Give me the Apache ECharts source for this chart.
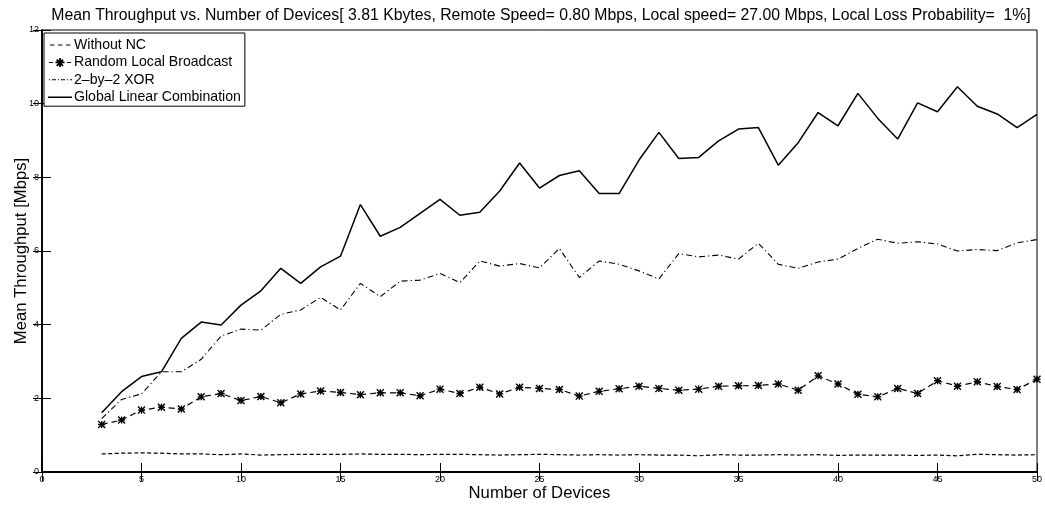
<!DOCTYPE html>
<html>
<head>
<meta charset="utf-8">
<script src="https://cdn.jsdelivr.net/npm/echarts@6/dist/echarts.min.js"></script>
<style>
  html, body { margin: 0; padding: 0; background: #fff; }
  #chart { width: 1045px; height: 505px; }
</style>
</head>
<body>
<div id="chart"></div>
<script>
// Number of devices on the x axis
const devices = [3, 4, 5, 6, 7, 8, 9, 10, 11, 12, 13, 14, 15, 16, 17, 18, 19, 20, 21, 22, 23, 24, 25, 26,
  27, 28, 29, 30, 31, 32, 33, 34, 35, 36, 37, 38, 39, 40, 41, 42, 43, 44, 45, 46, 47, 48, 49, 50];

// Mean throughput [Mbps] for each scheme
const withoutNC = [0.49, 0.51, 0.52, 0.51, 0.49, 0.49, 0.47, 0.49, 0.46, 0.47, 0.48, 0.48, 0.48, 0.49, 0.48, 0.48,
  0.47, 0.48, 0.48, 0.47, 0.46, 0.47, 0.48, 0.47, 0.46, 0.47, 0.46, 0.47, 0.46, 0.46, 0.44, 0.47,
  0.46, 0.46, 0.47, 0.46, 0.47, 0.45, 0.46, 0.46, 0.46, 0.45, 0.46, 0.44, 0.48, 0.47, 0.46, 0.47];

const randomLocalBroadcast = [1.29, 1.41, 1.68, 1.76, 1.71, 2.04, 2.13, 1.94, 2.05, 1.88, 2.12, 2.20, 2.16, 2.10, 2.15, 2.15,
  2.07, 2.25, 2.13, 2.30, 2.12, 2.30, 2.27, 2.24, 2.06, 2.19, 2.26, 2.33, 2.27, 2.22, 2.25, 2.33,
  2.34, 2.35, 2.39, 2.22, 2.61, 2.39, 2.11, 2.04, 2.27, 2.13, 2.48, 2.33, 2.45, 2.32, 2.24, 2.52];

const xor2by2 = [1.45, 1.97, 2.12, 2.72, 2.72, 3.06, 3.69, 3.88, 3.85, 4.28, 4.40, 4.74, 4.40, 5.12, 4.76, 5.18,
  5.21, 5.39, 5.14, 5.73, 5.59, 5.66, 5.54, 6.07, 5.28, 5.73, 5.64, 5.46, 5.24, 5.93, 5.84, 5.89,
  5.78, 6.21, 5.64, 5.53, 5.70, 5.78, 6.07, 6.32, 6.21, 6.25, 6.19, 6.00, 6.04, 6.01, 6.22, 6.31];

const globalLinear = [1.61, 2.18, 2.59, 2.72, 3.63, 4.07, 3.99, 4.53, 4.92, 5.53, 5.12, 5.57, 5.86, 7.26, 6.40, 6.64,
  7.02, 7.40, 6.97, 7.05, 7.63, 8.39, 7.71, 8.05, 8.18, 7.56, 7.56, 8.47, 9.22, 8.51, 8.54, 8.99,
  9.31, 9.35, 8.33, 8.94, 9.76, 9.40, 10.28, 9.60, 9.04, 10.02, 9.78, 10.46, 9.93, 9.72, 9.35, 9.71];

const seriesNames = ['Without NC', 'Random Local Broadcast', '2\u2013by\u20132 XOR', 'Global Linear Combination'];

const titleText = 'Mean Throughput vs. Number of Devices[ 3.81 Kbytes, Remote Speed= 0.80 Mbps, Local speed= 27.00 Mbps, Local Loss Probability=  1%]';

const FONT = '"Liberation Sans", Arial, Helvetica, sans-serif';

// Asterisk marker: four thick bars crossing at the centre
const asterisk = 'path://M8 0L12 0L12 20L8 20Z M0 8L20 8L20 12L0 12Z ' +
  'M1.41 -1.41L21.41 18.59L18.59 21.41L-1.41 1.41Z M18.59 -1.41L21.41 1.41L1.41 21.41L-1.41 18.59Z';

// Legend keys drawn as filled shapes inside a 24 x 13 box
// (the two tiny corner triangles pin the box so every key scales alike)
const keyBox = 'M0 0L0.01 0L0.01 0.01Z M23.99 12.99L24 12.99L24 13Z ';
const keyDashed = 'path://' + keyBox + 'M2 6L6.5 6L6.5 7L2 7Z M10 6L14.5 6L14.5 7L10 7Z M18 6L22.5 6L22.5 7L18 7Z';
const keyStar = 'path://' + keyBox + 'M1 6L5 6L5 7L1 7Z M19 6L23 6L23 7L19 7Z ' +
  'M11.1 2L12.9 2L12.9 11L11.1 11Z M7.5 5.6L16.5 5.6L16.5 7.4L7.5 7.4Z ' +
  'M9.4 3.1L15.6 9.3L14.3 10.6L8.1 4.4Z M15.6 4.4L9.4 10.6L8.1 9.3L14.3 3.1Z';
const keyDashDot = 'path://' + keyBox + 'M1 6L2 6L2 7L1 7Z M4 6L8 6L8 7L4 7Z M10 6L11 6L11 7L10 7Z ' +
  'M13 6L17 6L17 7L13 7Z M19 6L20 6L20 7L19 7Z M22 6L24 6L24 7L22 7Z';
const keySolid = 'path://' + keyBox + 'M0 5.9L24 5.9L24 7.2L0 7.2Z';

function pairs(vals) {
  return devices.map((d, i) => [d, vals[i]]);
}

function lineSeries(name, vals, dash, width, extra) {
  return Object.assign({
    name: name,
    type: 'line',
    data: pairs(vals),
    symbol: 'none',
    showSymbol: false,
    lineStyle: { color: '#000', width: width, type: dash },
    itemStyle: { color: '#000', borderWidth: 0 },
    silent: true,
    z: 3
  }, extra || {});
}

const axisFont = { fontFamily: FONT, fontSize: 9, color: '#000' };
const tickStyle = { show: true, inside: true, length: 9, lineStyle: { color: '#000', width: 1 } };

const option = {
  animation: false,
  backgroundColor: '#fff',
  title: {
    text: titleText,
    left: 536,
    textAlign: 'center',
    top: 3,
    textStyle: { fontFamily: FONT, fontSize: 15.8, fontWeight: 'normal', color: '#000' }
  },
  grid: {
    left: 42, right: 8, top: 30, bottom: 33,
    containLabel: false,
    outerBoundsMode: 'none',
    show: true, borderColor: '#000', borderWidth: 1, backgroundColor: 'transparent'
  },
  legend: {
    orient: 'vertical',
    left: 44, top: 33,
    backgroundColor: '#fff',
    borderColor: '#000', borderWidth: 1, borderRadius: 0,
    padding: [5, 4, 2, 4],
    itemGap: 3.4,
    itemWidth: 24, itemHeight: 13,
    symbolKeepAspect: true,
    itemStyle: { color: '#000', borderWidth: 0 },
    textStyle: { fontFamily: FONT, fontSize: 14.1, color: '#000', padding: [0, 0, 0, -3] },
    data: [
      { name: seriesNames[0], icon: keyDashed },
      { name: seriesNames[1], icon: keyStar },
      { name: seriesNames[2], icon: keyDashDot },
      { name: seriesNames[3], icon: keySolid }
    ]
  },
  xAxis: [{
    type: 'value', min: 0, max: 50, interval: 5,
    name: 'Number of Devices', nameLocation: 'middle', nameGap: 12.5, nameMoveOverlap: false,
    nameTextStyle: { fontFamily: FONT, fontSize: 16.7, color: '#000' },
    axisLine: { show: true, lineStyle: { color: '#000', width: 2 } },
    axisTick: tickStyle,
    axisLabel: Object.assign({ margin: 3 }, axisFont),
    splitLine: { show: false }
  }, {
    type: 'value', min: 0, max: 50, interval: 5, position: 'top',
    axisLine: { show: true, lineStyle: { color: '#000', width: 1 } },
    axisTick: tickStyle,
    axisLabel: { show: false },
    splitLine: { show: false }
  }],
  yAxis: [{
    type: 'value', min: 0, max: 12, interval: 2,
    name: 'Mean Throughput [Mbps]', nameLocation: 'middle', nameGap: 12.5, nameMoveOverlap: false,
    nameTextStyle: { fontFamily: FONT, fontSize: 16.7, color: '#000' },
    axisLine: { show: true, lineStyle: { color: '#000', width: 1.5 } },
    axisTick: tickStyle,
    axisLabel: Object.assign({ margin: 3 }, axisFont),
    splitLine: { show: false }
  }, {
    type: 'value', min: 0, max: 12, interval: 2, position: 'right',
    axisLine: { show: true, lineStyle: { color: '#000', width: 1.5 } },
    axisTick: tickStyle,
    axisLabel: { show: false },
    splitLine: { show: false }
  }],
  series: [
    lineSeries(seriesNames[0], withoutNC, [4, 2.5], 1.2),
    lineSeries(seriesNames[1], randomLocalBroadcast, [6, 4], 1.2, {
      symbol: asterisk, showSymbol: true, symbolSize: 8
    }),
    lineSeries(seriesNames[2], xor2by2, [6, 3, 1.2, 3], 1.1),
    lineSeries(seriesNames[3], globalLinear, 'solid', 1.5)
  ]
};

const chart = echarts.init(document.getElementById('chart'), null, { renderer: 'canvas' });
chart.setOption(option);
</script>
</body>
</html>
